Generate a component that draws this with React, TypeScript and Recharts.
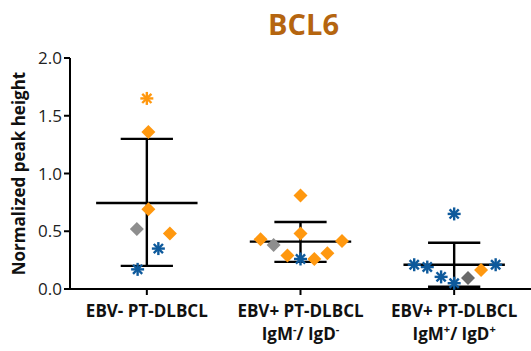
import { ComposedChart, ReferenceLine, Scatter, XAxis, YAxis } from 'recharts';

document.body.style.margin = '0';

// groups along the x axis
const groups = ['EBV- PT-DLBCL', 'EBV+ PT-DLBCL', 'EBV+ PT-DLBCL'];
const groupSub = [null, '-', '+'];
const yTicks = [0, 0.5, 1, 1.5, 2];

// mean and error bar ends per group
const means = [0.745, 0.41, 0.21];
const lows = [0.2, 0.235, 0.02];
const highs = [1.3, 0.58, 0.4];

// points: g = group index, dx = horizontal jitter, y = value
const orangeDiamonds = [
  { g: 0, dx: 0.01, y: 1.36 },
  { g: 0, dx: 0.01, y: 0.69 },
  { g: 0, dx: 0.15, y: 0.48 },
  { g: 1, dx: 0.0, y: 0.81 },
  { g: 1, dx: 0.0, y: 0.48 },
  { g: 1, dx: -0.26, y: 0.43 },
  { g: 1, dx: 0.27, y: 0.415 },
  { g: 1, dx: -0.085, y: 0.29 },
  { g: 1, dx: 0.09, y: 0.26 },
  { g: 1, dx: 0.175, y: 0.31 },
  { g: 2, dx: 0.175, y: 0.165 },
];
const grayDiamonds = [
  { g: 0, dx: -0.065, y: 0.52 },
  { g: 1, dx: -0.175, y: 0.38 },
];
const darkGrayDiamonds = [{ g: 2, dx: 0.09, y: 0.095 }];
const orangeStars = [{ g: 0, dx: 0.0, y: 1.65 }];
const blueStars = [
  { g: 0, dx: 0.075, y: 0.35 },
  { g: 0, dx: -0.06, y: 0.17 },
  { g: 1, dx: 0.0, y: 0.26 },
  { g: 2, dx: 0.0, y: 0.65 },
  { g: 2, dx: -0.26, y: 0.21 },
  { g: 2, dx: -0.175, y: 0.19 },
  { g: 2, dx: -0.085, y: 0.105 },
  { g: 2, dx: 0.0, y: 0.05 },
  { g: 2, dx: 0.27, y: 0.21 },
];

const ORANGE = '#FF980F';
const BLUE = '#0E5A9C';
const GRAY = '#8E8E8E';
const DARK_GRAY = '#6A6A6A';
const FONT = '"Open Sans", Lato, sans-serif';

const toPoints = (arr: { g: number; dx: number; y: number }[]) =>
  arr.map(p => ({ x: p.g + 0.5 + p.dx, y: p.y }));

const diamond = (color: string) => (props: any) => {
  const { cx, cy } = props;
  const r = 7;
  return <path d={`M${cx},${cy - r}L${cx + r},${cy}L${cx},${cy + r}L${cx - r},${cy}Z`} fill={color} />;
};

const star = (color: string) => (props: any) => {
  const { cx, cy } = props;
  const r = 6.5;
  const d = r * 0.7071;
  return (
    <g stroke={color} strokeWidth={2.4} strokeLinecap="butt">
      <line x1={cx - r} y1={cy} x2={cx + r} y2={cy} />
      <line x1={cx} y1={cy - r} x2={cx} y2={cy + r} />
      <line x1={cx - d} y1={cy - d} x2={cx + d} y2={cy + d} />
      <line x1={cx - d} y1={cy + d} x2={cx + d} y2={cy - d} />
    </g>
  );
};

const GroupTick = (props: any) => {
  const { x, y, index } = props;
  const sub = groupSub[index];
  return (
    <g fontFamily={FONT} fontWeight="bold" fontSize={17} fill="#111">
      <text x={x} y={y + 20} textAnchor="middle">
        {groups[index]}
      </text>
      {sub && (
        <text x={x} y={y + 43} textAnchor="middle">
          IgM
          <tspan fontSize={11} dy={-7}>{sub}</tspan>
          <tspan dy={7}>/ IgD</tspan>
          <tspan fontSize={11} dy={-7}>{sub}</tspan>
        </text>
      )}
    </g>
  );
};

const YLabel = (props: any) => {
  const { viewBox } = props;
  const cy = viewBox.y + viewBox.height / 2;
  return (
    <text
      x={25}
      y={cy}
      transform={`rotate(-90, 25, ${cy})`}
      textAnchor="middle"
      fontFamily={FONT}
      fontWeight="bold"
      fontSize={17}
      fill="#111"
    >
      Normalized peak height
    </text>
  );
};

const MEAN_HALF = 0.33;
const CAP_HALF = 0.17;

export default function App() {
  return (
    <div style={{ position: 'relative', width: 531, height: 351, background: '#fff' }}>
      <div
        style={{
          position: 'absolute',
          left: 0,
          width: 531,
          top: 4,
          paddingLeft: 76,
          boxSizing: 'border-box',
          textAlign: 'center',
          fontFamily: FONT,
          fontWeight: 'bold',
          fontSize: 29,
          color: '#B5650F',
        }}
      >
        BCL6
      </div>
      <ComposedChart width={531} height={351} margin={{ top: 58, right: 0, bottom: 0, left: 0 }}>
        <XAxis
          type="number"
          dataKey="x"
          domain={[0, 3]}
          ticks={[0.5, 1.5, 2.5]}
          height={62}
          tick={<GroupTick />}
          tickSize={6}
          axisLine={{ stroke: '#000', strokeWidth: 2 }}
          tickLine={{ stroke: '#000', strokeWidth: 2 }}
          allowDataOverflow
        />
        <YAxis
          type="number"
          dataKey="y"
          domain={[0, 2]}
          ticks={yTicks}
          width={70}
          tickFormatter={v => v.toFixed(1)}
          tick={{ fontFamily: FONT, fontSize: 17, fill: '#222' }}
          tickSize={6}
          axisLine={{ stroke: '#000', strokeWidth: 2 }}
          tickLine={{ stroke: '#000', strokeWidth: 2 }}
          label={<YLabel />}
        />
        {means.map((m, i) => (
          <ReferenceLine
            key={`m${i}`}
            segment={[{ x: i + 0.5 - MEAN_HALF, y: m }, { x: i + 0.5 + MEAN_HALF, y: m }]}
            stroke="#000"
            strokeWidth={2.4}
          />
        ))}
        {lows.map((lo, i) => (
          <ReferenceLine
            key={`v${i}`}
            segment={[{ x: i + 0.5, y: lo }, { x: i + 0.5, y: highs[i] }]}
            stroke="#000"
            strokeWidth={2.4}
          />
        ))}
        {lows.map((lo, i) => (
          <ReferenceLine
            key={`l${i}`}
            segment={[{ x: i + 0.5 - CAP_HALF, y: lo }, { x: i + 0.5 + CAP_HALF, y: lo }]}
            stroke="#000"
            strokeWidth={2.4}
          />
        ))}
        {highs.map((hi, i) => (
          <ReferenceLine
            key={`h${i}`}
            segment={[{ x: i + 0.5 - CAP_HALF, y: hi }, { x: i + 0.5 + CAP_HALF, y: hi }]}
            stroke="#000"
            strokeWidth={2.4}
          />
        ))}
        <Scatter data={toPoints(grayDiamonds)} shape={diamond(GRAY)} isAnimationActive={false} />
        <Scatter data={toPoints(darkGrayDiamonds)} shape={diamond(DARK_GRAY)} isAnimationActive={false} />
        <Scatter data={toPoints(orangeDiamonds)} shape={diamond(ORANGE)} isAnimationActive={false} />
        <Scatter data={toPoints(orangeStars)} shape={star(ORANGE)} isAnimationActive={false} />
        <Scatter data={toPoints(blueStars)} shape={star(BLUE)} isAnimationActive={false} />
      </ComposedChart>
    </div>
  );
}
